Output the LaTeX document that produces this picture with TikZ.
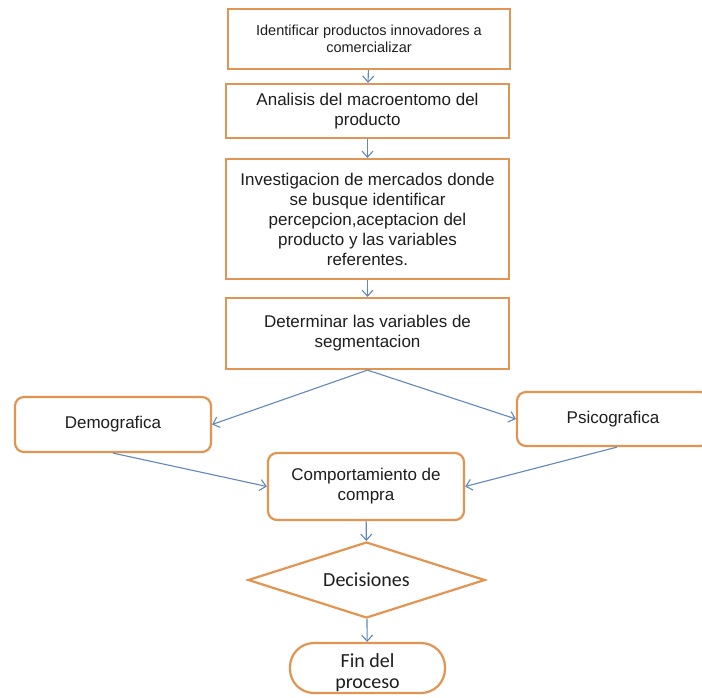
\documentclass[tikz,border=0pt]{standalone}
\usepackage{fontspec}
\setmainfont{Liberation Sans}
\newfontfamily\calfont{Carlito}
\usetikzlibrary{shapes.geometric,arrows.meta}
\definecolor{boxorange}{RGB}{226,148,82}
\definecolor{arrowblue}{RGB}{96,136,188}
\definecolor{txt}{RGB}{30,30,30}
\tikzset{
  procbox/.style={draw=boxorange, line width=2.2pt, fill=white, rectangle, align=center, text=txt, inner sep=2pt, font=\fontsize{17}{20}\selectfont},
  roundbox/.style={procbox, rounded corners=9pt},
  decbox/.style={draw=boxorange, line width=2.2pt, fill=white, diamond, aspect=3, inner sep=0pt, text=txt, font=\calfont\fontsize{20}{22}\selectfont},
  endbox/.style={draw=boxorange, line width=2.2pt, fill=white, rectangle, rounded corners=24pt, align=center, text=txt, inner sep=0pt, font=\calfont\fontsize{20}{21}\selectfont},
  flow/.style={draw=arrowblue, line width=1.1pt, -{Straight Barb[length=6pt,width=11pt,line width=1.1pt]}}
}
\begin{document}
\begin{tikzpicture}[x=1pt,y=-1pt]
\path[use as bounding box] (0,0) rectangle (702,697);
\clip (0,0) rectangle (702,697);
\fill[white] (0,0) rectangle (702,697);
\node[procbox, minimum width=282pt, minimum height=60pt, font=\fontsize{14.5}{17}\selectfont] (b1) at (369,39) {Identificar productos innovadores a\\comercializar};
\node[procbox, minimum width=283pt, minimum height=54pt] (b2) at (367.5,111) {Analisis del macroentomo del\\producto};
\node[procbox, minimum width=283pt, minimum height=120pt] (b3) at (367.5,219) {Investigacion de mercados donde\\se busque identificar\\percepcion,aceptacion del\\producto y las variables\\referentes.};
\node[procbox, minimum width=283pt, minimum height=71pt] (b4) at (367.5,333.5) {Determinar las variables de\\segmentacion};
\node[roundbox, minimum width=196pt, minimum height=55pt] (dem) at (113,424.5) {Demografica};
\node[roundbox, minimum width=192pt, minimum height=54pt] (psi) at (613,419) {Psicografica};
\node[roundbox, minimum width=196pt, minimum height=67pt] (comp) at (366,486.5) {Comportamiento de\\compra};
\node[decbox, minimum width=237pt, minimum height=76pt] (dec) at (366.5,580) {Decisiones};
\node[endbox, minimum width=155pt, minimum height=50pt] (fin) at (367.5,668) {\raisebox{-6pt}[\height][\depth]{\begin{tabular}{@{}c@{}}Fin del\\proceso\end{tabular}}};
\draw[flow] (b1) -- (b2);
\draw[flow] (b2) -- (b3);
\draw[flow] (b3) -- (b4);
\draw[flow] (b4.south) -- (dem.east);
\draw[flow] (b4.south) -- (psi.west);
\draw[flow] (dem.south) -- (comp.west);
\draw[flow] ([xshift=4pt]psi.south) -- (comp.east);
\draw[flow] (comp) -- (dec);
\draw[flow] (dec) -- (fin);
\end{tikzpicture}
\end{document}
